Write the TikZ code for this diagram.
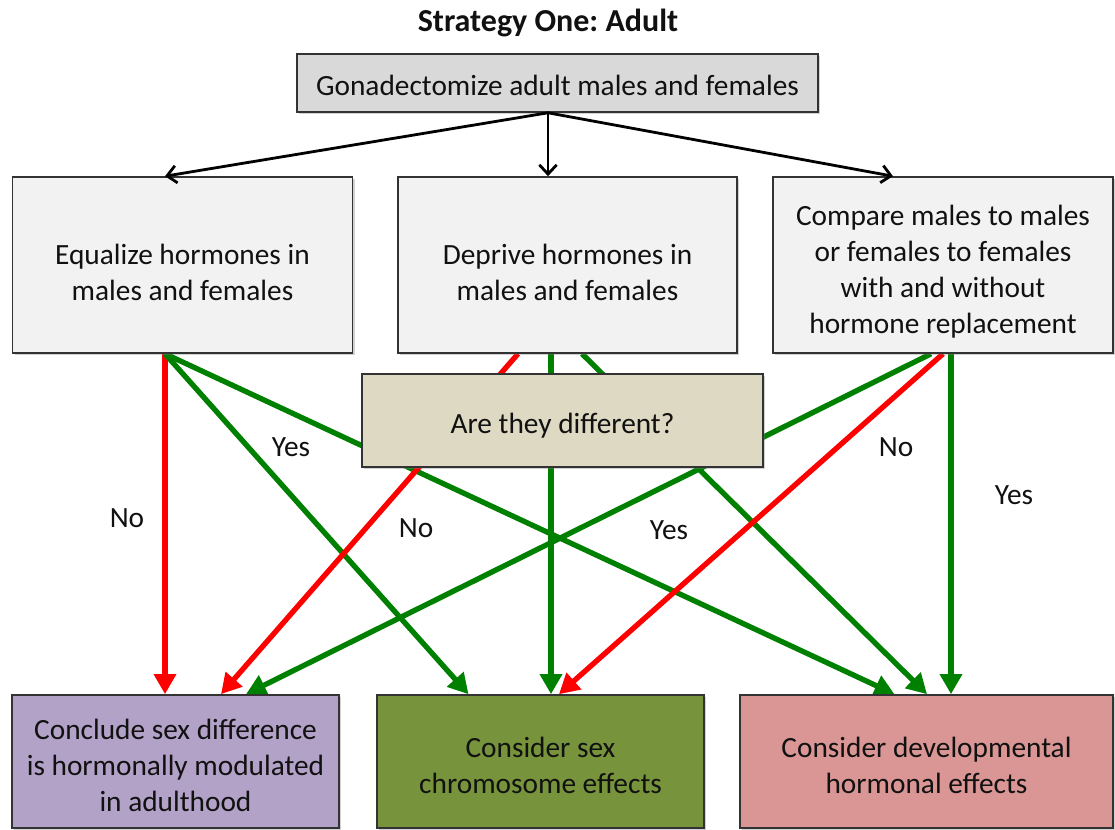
\documentclass[tikz,border=0pt]{standalone}
\usepackage{fontspec}
\setmainfont{Carlito}
\usetikzlibrary{arrows.meta,calc,shadows}
\pgfdeclarelayer{bottom}
\pgfdeclarelayer{background}
\pgfsetlayers{bottom,background,main}
\definecolor{cTop}{HTML}{D9D9D9}
\definecolor{cMid}{HTML}{F2F2F2}
\definecolor{cTan}{HTML}{DDD9C3}
\definecolor{cPur}{HTML}{B3A2C7}
\definecolor{cGrn}{HTML}{77933C}
\definecolor{cPnk}{HTML}{D99694}
\definecolor{lRed}{HTML}{FF0000}
\definecolor{lGrn}{HTML}{008000}
\definecolor{cTxt}{HTML}{111111}
\frenchspacing
\newcommand{\lift}[1]{\rule{0pt}{#1}}
\begin{document}
\begin{tikzpicture}[x=0.75pt,y=-0.75pt,
  box/.style={rectangle, draw=black!80, line width=1.2pt, align=center, inner sep=0pt,
    text=cTxt, font=\fontsize{22}{27}\selectfont,
    drop shadow={shadow xshift=1.5pt, shadow yshift=-1.5pt, opacity=0.35}},
  lbl/.style={text=cTxt, font=\fontsize{22}{27}\selectfont, inner sep=0pt},
  gline/.style={line width=4pt, draw=lGrn, -{Triangle[length=15pt,width=16pt]}},
  rline/.style={line width=4pt, draw=lRed, -{Triangle[length=15pt,width=16pt]}},
  blk/.style={line width=2.1pt, draw=black, -{Straight Barb[length=7pt,width=13pt]}}
]
\useasboundingbox (0,0) rectangle (1115,830);
\begin{pgfonlayer}{bottom}
\fill[white] (0,0) rectangle (1115,830);
\end{pgfonlayer}

\node[lbl, font=\fontsize{24}{29}\selectfont\bfseries] (title) at (548,23) {Strategy One: Adult};

\node[box, fill=cTop, minimum width={521*0.75pt}, minimum height={58*0.75pt}] (top) at (557.5,83)
  {\lift{18.8pt}Gonadectomize adult males and females};

\node[box, fill=cMid, minimum width={340*0.75pt}, minimum height={176*0.75pt}] (left) at (182.5,265)
  {\lift{25.8pt}Equalize hormones in\\males and females};
\node[box, fill=cMid, minimum width={339*0.75pt}, minimum height={176*0.75pt}] (mid) at (567.5,265)
  {\lift{25.8pt}Deprive hormones in\\males and females};
\node[box, fill=cMid, minimum width={340*0.75pt}, minimum height={176*0.75pt}] (right) at (943,265)
  {\lift{25.8pt}Compare males to males\\or females to females\\with and without\\hormone replacement};

\node[box, fill=cTan, minimum width={401*0.75pt}, minimum height={93*0.75pt}] (ask) at (562.5,420.5)
  {\lift{23.3pt}Are they different?};

\node[box, fill=cPur, minimum width={327*0.75pt}, minimum height={133*0.75pt}] (pur) at (175.5,761.5)
  {\lift{20.8pt}Conclude sex difference\\is hormonally modulated\\in adulthood};
\node[box, fill=cGrn, minimum width={327*0.75pt}, minimum height={133*0.75pt}] (grn) at (540.5,761.5)
  {\lift{21.8pt}Consider sex\\chromosome effects};
\node[box, fill=cPnk, minimum width={373*0.75pt}, minimum height={133*0.75pt}] (pnk) at (926.5,761.5)
  {\lift{21.8pt}Consider developmental\\hormonal effects};

% black arrows
\draw[blk] ($(top.south)+(-9.5,0)$) -- ($(left.north)+(-17.5,0)$);
\draw[blk] ($(top.south)+(-9.5,0)$) -- ($(mid.north)+(-19.5,0)$);
\draw[blk] ($(top.south)+(-9.5,0)$) -- ($(right.north)+(-50,0)$);

\begin{pgfonlayer}{background}
% from left box
\draw[rline] ($(left.south)+(-17.5,0)$) -- ($(pur.north)+(-10.5,0)$);
\draw[gline] ($(left.south)+(-17.5,0)$) -- ($(grn.north)+(-72,0)$);
\draw[gline] ($(left.south)+(-17.5,0)$) -- ($(pnk.north)+(-32,0)$);
% from middle box
\draw[rline] ($(mid.south)+(-49.5,0)$) -- ($(pur.north)+(45.5,0)$);
\draw[gline] ($(mid.south)+(-16.5,0)$) -- ($(grn.north)+(10.5,0)$);
\draw[gline] ($(mid.south)+(14.5,0)$) -- ($(pnk.north)+(0.5,0)$);
% from right box
\draw[gline] ($(right.south)+(-12,0)$) -- ($(pur.north)+(70.5,0)$);
\draw[rline] ($(right.south)+(0,0)$) -- ($(grn.north)+(18.5,0)$);
\draw[gline] ($(right.south)+(8,0)$) -- ($(pnk.north)+(24.5,0)$);
\end{pgfonlayer}

\node[lbl] (no1) at (127,518) {No};
\node[lbl] (yes1) at (291,447) {Yes};
\node[lbl] (no2) at (416,528) {No};
\node[lbl] (yes2) at (669,530) {Yes};
\node[lbl] (no3) at (896,447) {No};
\node[lbl] (yes3) at (1014,495) {Yes};
\end{tikzpicture}
\end{document}
